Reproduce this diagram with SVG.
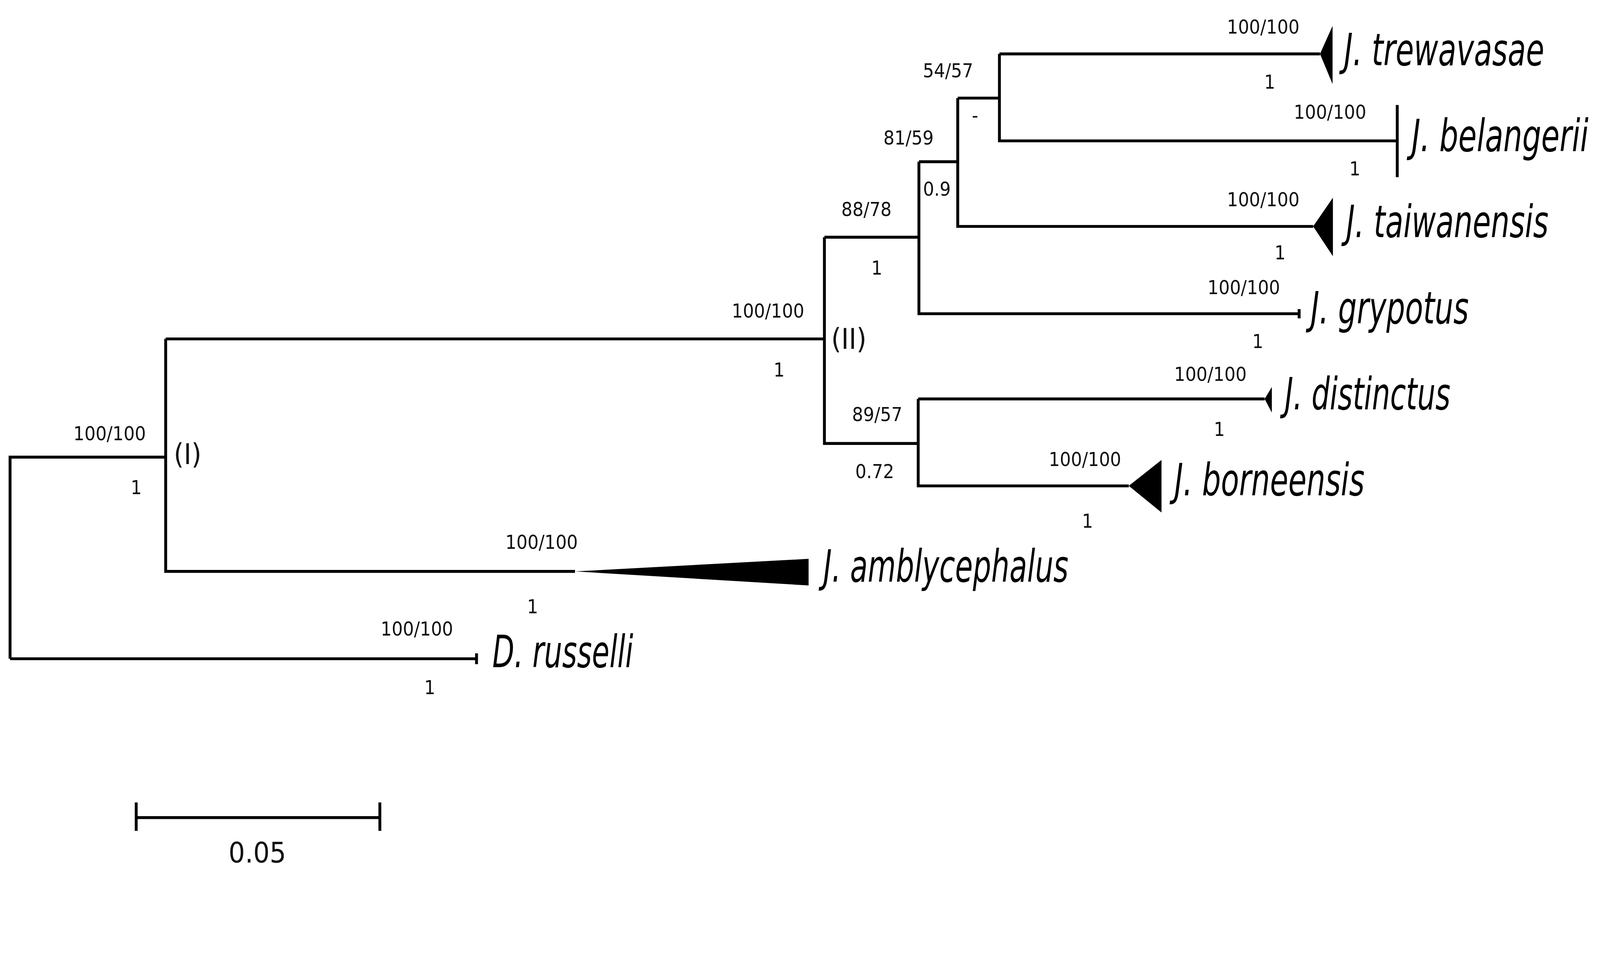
<svg xmlns="http://www.w3.org/2000/svg" width="4442" height="2455" viewBox="0 0 4442 2455">
<style>
.e{fill:none;stroke:#000;stroke-width:8}
.s{font-family:"DejaVu Sans Condensed","DejaVu Sans",sans-serif;font-size:54px;text-anchor:middle;fill:#111}
.n{font-family:"DejaVu Sans Condensed","DejaVu Sans",sans-serif;font-size:80px;text-anchor:middle;fill:#111}
.t{font-family:"DejaVu Sans Condensed","DejaVu Sans",sans-serif;font-size:124px;font-style:italic;fill:#000}
</style>
<rect width="4442" height="2455" fill="#fff"/>
<g transform="scale(0.92)">
<g id="edges">
<path class="e" d="M28,1833V1272H461M28,1833H1326M461,943V1590H1600M461,943H2294M2294,660V1234H2555M2294,660H2557M2557,450V873H3615M2557,450H2665M2665,273V630H3654M2665,273H2781M2781,150V392H3888M2781,150H3673M2555,1110V1352H3141M2555,1110H3519"/>
<path class="e" d="M1326,1818V1848M3615,860V886M3888,292V493" stroke-width="4"/>
</g>
<g id="tri-trewavasae"><polygon points="3673,150 3708,72 3708,234"/></g>
<g id="tri-taiwanensis"><polygon points="3654,630 3709,550 3709,713"/></g>
<g id="tri-distinctus"><polygon points="3519,1110 3539,1077 3539,1148"/></g>
<g id="tri-borneensis"><polygon points="3141,1352 3232,1280 3232,1426"/></g>
<g id="tri-ambly"><polygon points="1600,1590 2250,1555 2250,1629"/></g>
<g id="labels">
<text class="t" x="3740" y="182" textLength="557" lengthAdjust="spacingAndGlyphs">J. trewavasae</text>
<text class="t" x="3928" y="421" textLength="492" lengthAdjust="spacingAndGlyphs">J. belangerii</text>
<text class="t" x="3746" y="660" textLength="563" lengthAdjust="spacingAndGlyphs">J. taiwanensis</text>
<text class="t" x="3647" y="900" textLength="440" lengthAdjust="spacingAndGlyphs">J. grypotus</text>
<text class="t" x="3575" y="1139" textLength="461" lengthAdjust="spacingAndGlyphs">J. distinctus</text>
<text class="t" x="3268" y="1378" textLength="529" lengthAdjust="spacingAndGlyphs">J. borneensis</text>
<text class="t" x="2291" y="1618" textLength="682" lengthAdjust="spacingAndGlyphs">J. amblycephalus</text>
<text class="t" x="1370" y="1856" textLength="392" lengthAdjust="spacingAndGlyphs">D. russelli</text>
</g>
<g id="support">
<text class="s" x="3515" y="93">100/100</text><text class="s" x="3533" y="247">1</text>
<text class="s" x="2638" y="215">54/57</text><text class="s" x="2713" y="340">-</text>
<text class="s" x="3701" y="330">100/100</text><text class="s" x="3770" y="488">1</text>
<text class="s" x="2528" y="402">81/59</text><text class="s" x="2607" y="545">0.9</text>
<text class="s" x="3515" y="574">100/100</text><text class="s" x="3562" y="722">1</text>
<text class="s" x="2411" y="601">88/78</text><text class="s" x="2440" y="764">1</text>
<text class="s" x="3461" y="818">100/100</text><text class="s" x="3500" y="968">1</text>
<text class="s" x="3368" y="1060">100/100</text><text class="s" x="3393" y="1213">1</text>
<text class="s" x="2441" y="1172">89/57</text><text class="s" x="2434" y="1330">0.72</text>
<text class="s" x="3019" y="1297">100/100</text><text class="s" x="3026" y="1469">1</text>
<text class="s" x="2137" y="884">100/100</text><text class="s" x="2168" y="1048">1</text>
<text class="s" x="305" y="1225">100/100</text><text class="s" x="379" y="1375">1</text>
<text class="s" x="1507" y="1527">100/100</text><text class="s" x="1482" y="1706">1</text>
<text class="s" x="1160" y="1768">100/100</text><text class="s" x="1196" y="1932">1</text>
<text class="n" x="2362" y="971">(II)</text>
<text class="n" x="522" y="1291">(I)</text>
</g>
<g id="scale">
<path class="e" d="M379,2275H1057M379,2233V2312M1057,2233V2312"/>
<text class="n" x="716" y="2400">0.05</text>
</g>
</g>
</svg>
